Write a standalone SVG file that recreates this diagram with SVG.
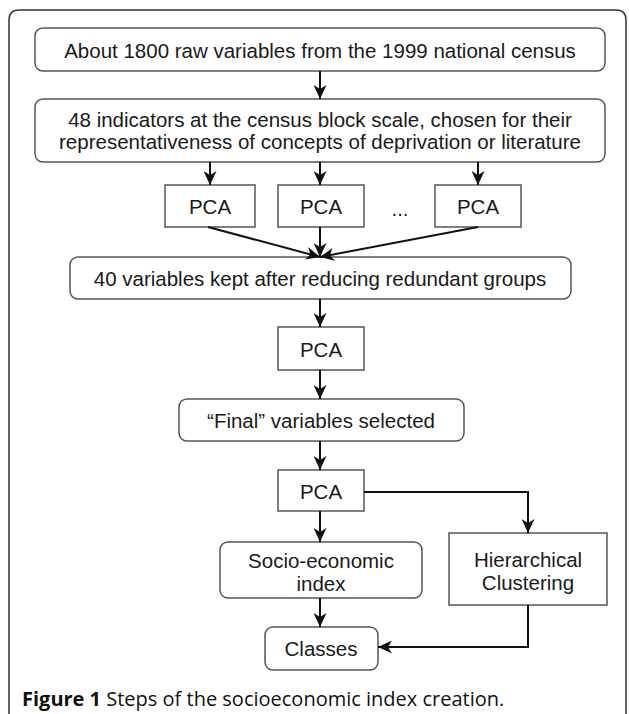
<svg xmlns="http://www.w3.org/2000/svg" width="629" height="714" viewBox="0 0 629 714">
<style>
.box{fill:#fff;stroke:#555;stroke-width:1.5}
.t{font-family:"Liberation Sans",Arial,sans-serif;font-size:20.5px;fill:#1a1a1a;text-anchor:middle;dominant-baseline:central}
.c{fill:none;stroke:#111;stroke-width:2}
.cap{font-family:"Open Sans","Noto Sans",sans-serif;font-size:20px;fill:#111}
</style>
<defs>
<marker id="ah" markerWidth="15" markerHeight="13" refX="14" refY="6.5" orient="auto" markerUnits="userSpaceOnUse">
<path d="M0,0 L14,6.5 L0,13 L4,6.5 z" fill="#111"/>
</marker>
</defs>
<rect width="629" height="714" fill="#fff"/>
<path d="M9,714 V20 Q9,10 19,10 H616 Q626,10 626,20 V714" fill="none" stroke="#333" stroke-width="1.5"/>
<g id="n1"><rect class="box" x="35" y="28" width="570" height="43" rx="8"/><text class="t" x="320" y="50">About 1800 raw variables from the 1999 national census</text></g>
<g id="n2"><rect class="box" x="35" y="99" width="570" height="63" rx="8"/><text class="t" x="320" y="119">48 indicators at the census block scale, chosen for their</text><text class="t" x="320" y="141">representativeness of concepts of deprivation or literature</text></g>
<g id="pca1"><rect class="box" x="165" y="185" width="90" height="42"/><text class="t" x="210" y="206">PCA</text></g>
<g id="pca2"><rect class="box" x="278" y="185" width="86" height="42"/><text class="t" x="321" y="206">PCA</text></g>
<g id="dots"><text class="t" x="400" y="208">...</text></g>
<g id="pca3"><rect class="box" x="435" y="185" width="86" height="42"/><text class="t" x="478" y="206">PCA</text></g>
<g id="n40"><rect class="box" x="70" y="257" width="501" height="42" rx="8"/><text class="t" x="320" y="278">40 variables kept after reducing redundant groups</text></g>
<g id="pca4"><rect class="box" x="278" y="327" width="86" height="43"/><text class="t" x="321" y="349">PCA</text></g>
<g id="final"><rect class="box" x="179" y="399" width="285" height="42" rx="8"/><text class="t" x="321" y="420">“Final” variables selected</text></g>
<g id="pca5"><rect class="box" x="278" y="470" width="86" height="41"/><text class="t" x="321" y="491">PCA</text></g>
<g id="socio"><rect class="box" x="220" y="542" width="202" height="56" rx="8"/><text class="t" x="321" y="560">Socio-economic</text><text class="t" x="321" y="583">index</text></g>
<g id="hier"><rect class="box" x="449" y="533" width="158" height="72"/><text class="t" x="528" y="559">Hierarchical</text><text class="t" x="528" y="582">Clustering</text></g>
<g id="classes"><rect class="box" x="265" y="627" width="113" height="43" rx="8"/><text class="t" x="321" y="648">Classes</text></g>
<g id="connectors">
<line class="c" x1="320" y1="71" x2="320" y2="99" marker-end="url(#ah)"/>
<line class="c" x1="210" y1="162" x2="210" y2="185" marker-end="url(#ah)"/>
<line class="c" x1="320" y1="162" x2="320" y2="185" marker-end="url(#ah)"/>
<line class="c" x1="478" y1="162" x2="478" y2="185" marker-end="url(#ah)"/>
<line class="c" x1="208" y1="227" x2="320" y2="257" marker-end="url(#ah)"/>
<line class="c" x1="320" y1="227" x2="320" y2="257" marker-end="url(#ah)"/>
<line class="c" x1="478" y1="227" x2="320" y2="257" marker-end="url(#ah)"/>
<line class="c" x1="320" y1="299" x2="320" y2="327" marker-end="url(#ah)"/>
<line class="c" x1="320" y1="370" x2="320" y2="399" marker-end="url(#ah)"/>
<line class="c" x1="320" y1="441" x2="320" y2="470" marker-end="url(#ah)"/>
<line class="c" x1="320" y1="511" x2="320" y2="542" marker-end="url(#ah)"/>
<line class="c" x1="320" y1="598" x2="320" y2="627" marker-end="url(#ah)"/>
<path class="c" d="M364,492 H528 V533" marker-end="url(#ah)"/>
<path class="c" d="M528,605 V647 H378" marker-end="url(#ah)"/>
</g>
<text class="cap" x="22" y="706"><tspan font-weight="bold">Figure 1</tspan> Steps of the socioeconomic index creation.</text>
</svg>
